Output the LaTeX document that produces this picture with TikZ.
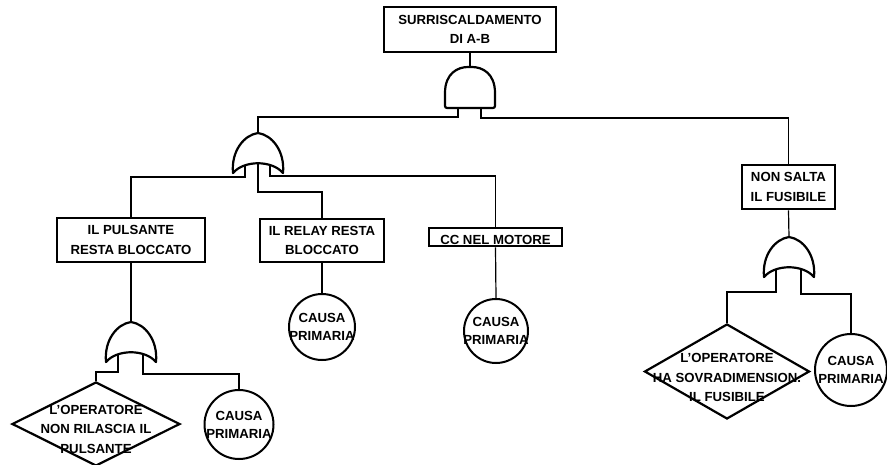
\documentclass[tikz,border=0pt]{standalone}
\usepackage{fontspec}
\setmainfont{Liberation Sans}
\usetikzlibrary{shapes.geometric}

\newcommand\ftlabel{\bfseries\fontsize{13.2}{19.5}\selectfont}
\newcommand\ftsmall{\bfseries\fontsize{13.2}{18}\selectfont}

\tikzset{
  event/.style={draw, line width=2.6pt, font=\ftlabel, align=center, inner sep=0pt},
  causa/.style={circle, draw, line width=2pt, minimum size=#1, inner sep=0pt,
    label={[font=\ftsmall, align=center]center:CAUSA\\PRIMARIA}},
  basic/.style={diamond, draw, line width=2.2pt, inner sep=0pt},
  conn/.style={line width=1.2pt},
  gate/.style={line width=2.2pt, line join=round},
  andgate/.pic={
    \draw[gate, rounded corners=2pt] (-25,41) -- (-25,28) .. controls (-25,6) and (-12,0) .. (0,0)
      .. controls (12,0) and (25,6) .. (25,28) -- (25,41) -- cycle;
    \coordinate (-top) at (0,0);
    \coordinate (-l) at (-12,41);
    \coordinate (-r) at (11,41);
  },
  orgate/.pic={
    \draw[gate] (-25,40) .. controls (-27,18) and (-14,2) .. (0,0)
      .. controls (14,2) and (27,18) .. (25,40)
      .. controls (14,27) and (-14,27) .. (-25,40) -- cycle;
    \coordinate (-top) at (0,0);
    \coordinate (-l) at (-13,33);
    \coordinate (-c) at (0,30);
    \coordinate (-r) at (12,33);
  }
}

\begin{document}
\begin{tikzpicture}[x=1pt,y=-1pt]
  \useasboundingbox (0,0) rectangle (887,464);
  \node[event, minimum width=172pt, minimum height=45pt] (top) at (470,29.5) {SURRISCALDAMENTO\\DI A-B};
  \node[event, minimum width=148pt, minimum height=44pt] (puls) at (131,240) {IL PULSANTE\\RESTA BLOCCATO};
  \node[event, minimum width=124pt, minimum height=43pt] (relay) at (322,240.5) {IL RELAY RESTA\\BLOCCATO};
  \node[event, minimum width=133pt, minimum height=18pt, text height=15pt, text depth=0pt] (cc) at (495.5,237) {CC NEL MOTORE};
  \node[event, minimum width=93pt, minimum height=44pt] (fus) at (788.5,187) {NON SALTA\\IL FUSIBILE};

  \node[causa=66pt] (c1) at (322,327) {};
  \node[causa=64pt] (c2) at (496,331) {};
  \node[causa=69pt] (c3) at (239,424.5) {};
  \node[causa=72pt] (c4) at (851,370) {};

  \node[basic, minimum width=168pt, minimum height=84pt,
    label={[font=\ftlabel, align=center, yshift=-5pt]center:L’OPERATORE\\NON RILASCIA IL\\PULSANTE}] (d1) at (96,424) {};
  \node[basic, minimum width=165pt, minimum height=95pt,
    label={[font=\ftlabel, align=center, yshift=-6pt]center:L’OPERATORE\\HA SOVRADIMENSION.\\IL FUSIBILE}] (d2) at (727,371.5) {};

  \pic (and1) at (470,67) {andgate};
  \pic (or1) at (258,133) {orgate};
  \pic (or2) at (131,322) {orgate};
  \pic (or3) at (789,237) {orgate};

  \draw[conn] (top.south) -- (and1-top);
  \draw[conn] (and1-l) -- ++(0,9) -| (or1-top);
  \draw[conn] (and1-r) -- ++(0,10) -| (fus.north);
  \draw[conn] (or1-l) -- ++(0,11) -| (puls.north);
  \draw[conn] (or1-c) -- ++(0,29) -| (relay.north);
  \draw[conn] (or1-r) -- ++(0,10) -| (cc.north);
  \draw[conn] (puls.south) -- (or2-top);
  \draw[conn] (or2-l) -- ++(0,17) -| (d1.north);
  \draw[conn] (or2-r) -- ++(0,19) -| (c3.north);
  \draw[conn] (relay.south) -- (c1.north);
  \draw[conn] (cc.south) -- (c2.north);
  \draw[conn] (fus.south) -- (or3-top);
  \draw[conn] (or3-l) -- ++(0,22) -| (d2.north);
  \draw[conn] (or3-r) -- ++(0,24) -| (c4.north);
\end{tikzpicture}
\end{document}
